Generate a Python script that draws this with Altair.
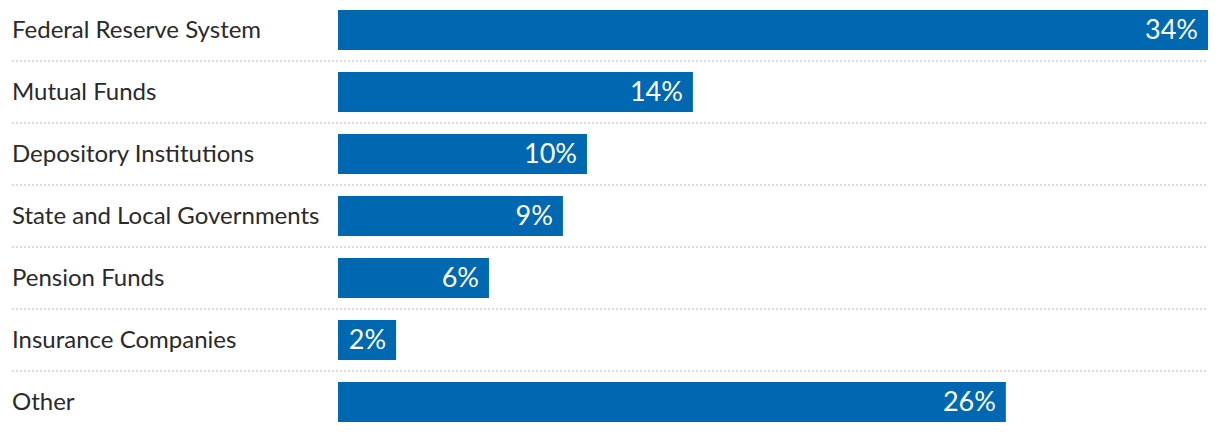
import altair as alt
import pandas as pd

categories = ["Federal Reserve System", "Mutual Funds", "Depository Institutions",
              "State and Local Governments", "Pension Funds", "Insurance Companies", "Other"]
values = [34.0, 13.87, 9.73, 8.79, 5.9, 2.27, 26.1]
labels = ["34%", "14%", "10%", "9%", "6%", "2%", "26%"]

df = pd.DataFrame({"cat": categories, "val": values, "lab": labels,
                   "sep": [True] * (len(categories) - 1) + [False]})

W, H = 1220, 432

x = alt.X("val:Q", axis=None, scale=alt.Scale(domain=[0, 34], range=[338, 1208], zero=True, nice=False))
yb = alt.Y("cat:N", sort=categories, axis=None,
           scale=alt.Scale(range=[-1, 433], paddingInner=0, paddingOuter=0))

base = alt.Chart(df)

bars = base.transform_calculate(zero="0").mark_bar(color="#0068B1", height=40).encode(
    x=x, x2="zero:Q", y=yb)

seps = base.transform_filter("datum.sep").mark_rule(
    color="#cfcfcf", strokeWidth=1.5, strokeDash=[2, 2], yOffset=31).encode(
    y=yb, x=alt.value(12), x2=alt.value(1208))

cat_text = base.mark_text(align="left", baseline="middle", font="Lato", fontSize=24,
                          color="#2a2a2a", dy=1).encode(
    y=yb, x=alt.value(12), text="cat:N")

val_text = base.mark_text(align="right", baseline="middle", font="Lato", fontSize=27,
                          color="white", dx=-10, dy=1).encode(
    y=yb, x=x, text="lab:N")

chart = alt.layer(seps, bars, cat_text, val_text).properties(
    width=W, height=H, autosize=alt.AutoSizeParams(type="none"), padding=0
).configure_view(stroke=None)

chart.save("out.html", embed_options={"renderer": "svg", "actions": False})
